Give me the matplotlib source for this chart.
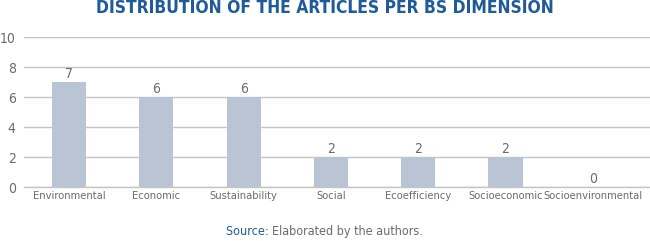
import matplotlib
matplotlib.use("Agg")
import matplotlib.pyplot as plt

categories = ["Environmental", "Economic", "Sustainability", "Social",
              "Ecoefficiency", "Socioeconomic", "Socioenvironmental"]
articles = [7, 6, 6, 2, 2, 2, 0]
y_ticks = [0, 2, 4, 6, 8, 10]

plt.rcParams['font.family'] = ['DejaVu Sans']
plt.rcParams['font.stretch'] = 'condensed'

fig = plt.figure(figsize=(6.5, 2.41), dpi=100)
ax = fig.add_axes([0.037, 0.224, 0.963, 0.624])

gray = '#6b6b6b'
bars = ax.bar(range(len(categories)), articles, width=0.39, color='#b9c5d4', zorder=3)

for rect, v in zip(bars, articles):
    ax.annotate(str(v), (rect.get_x() + rect.get_width() / 2, v),
                xytext=(0, 1), textcoords='offset points',
                ha='center', va='bottom', fontsize=10, color=gray)

ax.set_ylim(0, 10.03)
ax.set_xlim(-0.515, 6.655)
ax.set_yticks(y_ticks)
ax.set_xticks(range(len(categories)))
ax.set_xticklabels(categories)
ax.tick_params(axis='both', length=0, labelsize=8, labelcolor=gray)
ax.tick_params(axis='y', labelsize=10, pad=6)
ax.tick_params(axis='x', pad=3)
ax.yaxis.grid(True, color='#c4c4c4', linewidth=1.0, zorder=0)
for side in ['top', 'right', 'left']:
    ax.spines[side].set_visible(False)
ax.spines['bottom'].set_color('#c4c4c4')
ax.spines['bottom'].set_linewidth(1.0)

fig.text(0.5, 1.005, 'DISTRIBUTION OF THE ARTICLES PER BS DIMENSION',
         ha='center', va='top', fontsize=12.5, fontweight='bold', color='#1f5a99')

fig.text(0.419, 0.012, 'Source: ', ha='right', va='bottom', fontsize=9, color='#1f5a99')
fig.text(0.419, 0.012, 'Elaborated by the authors.', ha='left', va='bottom', fontsize=9, color=gray)

fig.savefig('out.png', dpi=100)
